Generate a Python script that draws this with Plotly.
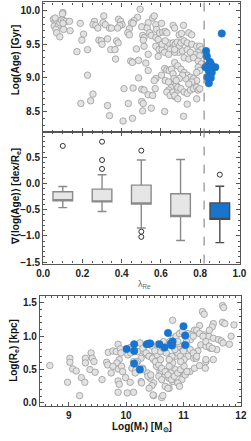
import plotly.graph_objects as go

# ---------------- top panel: lambda_Re vs log(Age) ----------------
top_gray_lam = [
    0.101, 0.098, 0.052, 0.061, 0.069, 0.056, 0.077, 0.085, 0.093, 0.104, 0.117, 0.134, 0.101, 0.065, 0.069, 0.085, 0.104, 0.137, 0.061,
    0.189, 0.206, 0.197, 0.172, 0.226, 0.226, 0.254, 0.242, 0.192, 0.328, 0.338, 0.261, 0.254, 0.268, 0.279, 0.309, 0.305, 0.317, 0.338, 0.284, 0.296, 0.300, 0.328, 0.344,
    0.494, 0.481, 0.462, 0.450, 0.458, 0.384, 0.395, 0.402, 0.390, 0.379, 0.348, 0.439, 0.431, 0.439, 0.502, 0.507, 0.514, 0.510,
    0.535, 0.530, 0.543, 0.551, 0.558, 0.566, 0.574, 0.578, 0.574, 0.586, 0.593, 0.609, 0.622, 0.603, 0.630, 0.662, 0.670,
    0.574, 0.590, 0.606, 0.619, 0.630, 0.639, 0.647, 0.662, 0.673, 0.683, 0.694, 0.690, 0.670, 0.639, 0.606, 0.622,
    0.366, 0.374, 0.382, 0.475, 0.514, 0.535, 0.586, 0.369, 0.446, 0.455, 0.486, 0.523,
    0.535, 0.574, 0.566, 0.603, 0.619, 0.630, 0.642, 0.654, 0.662, 0.667, 0.670, 0.654, 0.639, 0.630, 0.647, 0.662, 0.678, 0.686, 0.673, 0.622, 0.639,
    0.486, 0.412, 0.458, 0.502, 0.514, 0.535, 0.571, 0.558, 0.434, 0.502, 0.510, 0.551, 0.619, 0.407, 0.455, 0.507,
    0.715, 0.693, 0.705, 0.742, 0.757, 0.702, 0.718, 0.734, 0.757, 0.782, 0.798, 0.806, 0.790, 0.774, 0.798,
    0.670, 0.710, 0.734, 0.750, 0.718, 0.742, 0.766, 0.790, 0.806, 0.790, 0.798, 0.782,
    0.670, 0.686, 0.702, 0.718, 0.734, 0.750, 0.766, 0.782, 0.757, 0.742, 0.726, 0.710, 0.693, 0.678,
    0.686, 0.702, 0.718, 0.734, 0.750, 0.766, 0.782, 0.790, 0.734, 0.782, 0.798, 0.715, 0.670, 0.686,
]
top_gray_age = [
    9.97, 9.95, 9.87, 9.84, 9.81, 9.77, 9.78, 9.82, 9.86, 9.85, 9.84, 9.84, 9.81, 9.72, 9.67, 9.61, 9.72, 9.70, 9.89,
    9.81, 9.65, 9.56, 9.39, 9.42, 9.04, 8.76, 8.66, 8.62, 8.59, 8.44, 9.84, 9.79, 9.78, 9.74, 9.92, 9.82, 9.79, 9.74, 9.56, 9.55, 9.50, 9.58, 9.42,
    10.02, 9.90, 9.85, 9.82, 9.81, 9.87, 9.84, 9.79, 9.78, 9.74, 9.74, 9.73, 9.67, 9.64, 9.76, 9.63, 9.60, 9.56,
    9.82, 9.74, 9.67, 9.63, 9.89, 9.92, 9.79, 9.72, 9.60, 9.57, 9.67, 9.68, 9.69, 9.81, 9.67, 9.78, 9.74,
    9.47, 9.42, 9.42, 9.38, 9.47, 9.52, 9.42, 9.52, 9.50, 9.53, 9.47, 9.38, 9.38, 9.35, 9.50, 9.55,
    9.42, 9.55, 9.52, 9.43, 9.47, 9.35, 9.32, 9.28, 9.25, 9.23, 9.26, 9.22,
    9.11, 8.99, 8.96, 9.04, 9.14, 9.12, 9.11, 9.13, 9.06, 8.99, 8.91, 8.86, 8.82, 8.79, 8.74, 8.79, 8.89, 8.82, 8.72, 8.96, 8.94,
    9.00, 8.84, 8.85, 8.83, 8.82, 8.75, 8.84, 8.74, 8.62, 8.65, 8.62, 8.55, 8.50, 8.36, 8.40, 8.51,
    9.78, 9.64, 9.66, 9.67, 9.64, 9.52, 9.55, 9.52, 9.50, 9.47, 9.47, 9.42, 9.38, 9.35, 9.33,
    9.42, 9.40, 9.42, 9.38, 9.30, 9.28, 9.30, 9.25, 9.21, 9.16, 9.11, 9.08,
    9.23, 9.18, 9.13, 9.08, 9.04, 9.01, 8.99, 8.96, 8.94, 8.91, 8.99, 9.04, 8.99, 8.96,
    8.86, 8.84, 8.79, 8.77, 8.82, 8.84, 8.86, 8.82, 8.61, 8.69, 8.84, 8.43, 8.74, 8.69,
]
top_blue_lam = [0.830, 0.834, 0.849, 0.854, 0.827, 0.843, 0.859, 0.836, 0.854, 0.844, 0.877, 0.910, 0.837, 0.849]
top_blue_age = [9.40, 9.32, 9.24, 9.21, 9.16, 9.11, 9.08, 9.01, 9.00, 8.92, 9.16, 9.66, 9.18, 9.16]
lambda_cut = 0.82

# ---------------- middle panel: box statistics ----------------
box_pos = [0.1, 0.3, 0.5, 0.7, 0.9]
box_q1 = [-0.33, -0.35, -0.39, -0.63, -0.685]
box_q3 = [-0.157, -0.107, -0.03, -0.195, -0.37]
box_lo = [-0.46, -0.535, -0.85, -1.09, -1.13]
box_hi = [-0.057, 0.17, 0.45, 0.46, -0.05]
out_pos = [0.1, 0.3, 0.3, 0.3, 0.5, 0.5, 0.5, 0.9]
out_val = [0.72, 0.80, 0.45, 0.28, 0.63, -0.92, -1.02, 0.17]

# ---------------- bottom panel: log(M*) vs log(Re) ----------------
bot_gray_m = [
    8.67, 8.98, 9.02, 9.02, 9.07, 9.13, 9.19, 9.22, 9.28, 9.29, 9.29, 9.39, 9.41, 9.44, 9.37, 9.46, 9.58, 9.66, 9.68, 9.69, 9.74, 9.77,
    9.83, 9.86, 9.90, 9.91, 9.88, 9.86, 9.86, 9.88, 9.86, 9.84, 9.77, 9.92, 9.94, 9.99, 10.02, 10.03, 10.07, 10.08, 10.13, 10.10, 10.07, 10.17,
    11.68, 11.70, 11.33, 11.36, 11.52, 11.50, 11.68, 11.72, 11.88, 10.81, 11.28, 11.19, 11.08, 11.14, 11.36, 11.44, 11.52, 11.61, 11.66, 11.69,
    11.83, 11.80, 11.30, 11.39, 11.47, 11.58, 11.25, 11.17, 11.08, 11.39, 11.52, 10.92, 10.92, 10.97, 10.86, 10.81, 10.75, 10.70, 10.64, 10.59,
    10.53, 10.48, 10.42, 10.37, 10.31, 10.26, 10.20, 10.20, 10.29, 10.37, 10.42, 10.48, 10.62, 10.75, 10.81, 10.91, 10.97, 11.03, 11.11, 11.19,
    11.28, 10.92, 10.86, 10.78, 10.45, 10.26, 10.40, 10.48, 10.62, 10.64, 10.75, 11.18, 11.22,
    10.29, 10.35, 10.40, 10.46, 10.51, 10.57, 10.62, 10.68, 10.54, 10.60, 10.65, 10.71, 10.76, 10.82, 10.87, 10.93, 10.98, 10.57, 10.62, 10.73,
    10.79, 10.84, 10.90, 10.95, 10.90, 10.95, 11.01, 11.06, 11.12, 11.17, 11.23, 11.12, 11.17, 11.23, 11.28, 11.34, 11.39, 11.45, 11.50, 11.45,
    11.39, 11.38, 11.01, 11.06, 10.90, 10.93, 10.24, 10.18, 10.29, 10.38, 10.43, 10.16, 10.13, 10.27, 10.47, 10.68, 10.73,
    10.45, 10.55, 10.65, 10.50, 10.70, 10.80, 10.85, 10.75, 10.60, 10.95, 11.00, 11.05, 10.90,
]
bot_gray_r = [
    0.56, 0.31, 0.67, 0.61, 0.51, 0.48, 0.11, 0.38, 0.31, 0.67, 0.60, 0.75, 0.67, 0.62, 0.50, 0.46, 0.35, 0.61, 0.57, 0.76, 0.45, 0.78,
    0.77, 0.88, 0.81, 0.75, 0.65, 0.51, 0.33, 0.28, 0.16, 0.60, 0.55, 0.55, 0.47, 0.38, 0.15, 0.72, 0.83, 0.75, 0.62, 0.52, 0.31, 0.50,
    1.46, 1.43, 1.37, 1.33, 1.19, 1.14, 1.21, 1.19, 1.17, 1.24, 1.16, 1.09, 1.04, 1.02, 1.02, 1.00, 0.97, 0.95, 0.93, 0.90,
    1.00, 0.88, 0.87, 0.85, 0.82, 0.80, 0.78, 0.75, 0.70, 0.62, 0.65, 0.87, 0.80, 0.77, 0.70, 0.60, 0.55, 0.47, 0.40, 0.47,
    0.55, 0.65, 0.70, 0.72, 0.77, 0.67, 0.77, 0.62, 0.52, 0.45, 0.37, 0.30, 0.47, 0.37, 0.32, 0.30, 0.35, 0.42, 0.47, 0.52,
    0.56, 0.45, 0.50, 0.45, 0.26, 0.32, 0.22, 0.11, 0.08, 0.11, 0.22, 0.67, 0.67,
    0.82, 0.75, 0.70, 0.67, 0.62, 0.57, 0.52, 0.47, 0.72, 0.77, 0.82, 0.87, 0.92, 0.97, 1.00, 1.04, 1.07, 0.40, 0.35, 0.42,
    0.35, 0.40, 0.45, 0.50, 0.75, 0.70, 0.65, 0.85, 0.80, 0.75, 0.70, 0.95, 1.00, 1.09, 1.04, 1.00, 0.92, 0.85, 0.82, 1.09,
    0.65, 0.52, 0.55, 0.47, 0.30, 0.25, 0.90, 0.60, 0.50, 0.40, 0.42, 0.45, 0.16, 0.30, 0.12, 0.25, 0.22,
    0.85, 0.88, 0.92, 0.78, 0.75, 0.70, 0.80, 0.65, 0.65, 0.62, 0.78, 0.92, 0.92,
]
bot_blue_m = [10.01, 10.14, 10.14, 10.14, 10.24, 10.36, 10.40, 10.42, 10.58, 10.67, 10.73, 10.78, 10.81, 10.80, 11.00, 11.03, 11.03]
bot_blue_r = [0.81, 0.88, 0.78, 0.59, 0.50, 0.88, 0.89, 0.89, 0.88, 0.83, 1.05, 0.89, 0.92, 0.86, 1.15, 1.01, 0.87]

# ---------------- styling ----------------
W, H = 251, 441
GRAY_FILL = "#e2e2e2"
GRAY_EDGE = "#9a9a9a"
BLUE = "#1874cd"
AX = "#555555"
FONT = "Liberation Sans"

fig = go.Figure()

fig.add_trace(go.Scatter(x=top_gray_lam, y=top_gray_age, mode="markers", xaxis="x", yaxis="y",
                         marker=dict(size=6.5, color=GRAY_FILL, line=dict(color=GRAY_EDGE, width=0.8)),
                         showlegend=False, hoverinfo="skip"))
fig.add_trace(go.Scatter(x=top_blue_lam, y=top_blue_age, mode="markers", xaxis="x", yaxis="y",
                         marker=dict(size=7.5, color=BLUE, line=dict(color=BLUE, width=0.5)),
                         showlegend=False, hoverinfo="skip"))

for i, p in enumerate(box_pos):
    last = i == len(box_pos) - 1
    fig.add_trace(go.Box(x=[p], q1=[box_q1[i]], median=[box_q1[i]], q3=[box_q3[i]],
                         lowerfence=[box_lo[i]], upperfence=[box_hi[i]],
                         width=0.1, whiskerwidth=0.45, boxpoints=False,
                         fillcolor=BLUE if last else "#e6e6e6",
                         line=dict(color="#4a4a4a" if last else "#8a8a8a", width=1.4),
                         xaxis="x2", yaxis="y2", showlegend=False, hoverinfo="skip"))
fig.add_trace(go.Scatter(x=out_pos, y=out_val, mode="markers", xaxis="x2", yaxis="y2",
                         marker=dict(size=5, color="rgba(0,0,0,0)", line=dict(color="#333333", width=1)),
                         showlegend=False, hoverinfo="skip"))

fig.add_trace(go.Scatter(x=bot_gray_m, y=bot_gray_r, mode="markers", xaxis="x3", yaxis="y3",
                         marker=dict(size=6.5, color=GRAY_FILL, line=dict(color=GRAY_EDGE, width=0.8)),
                         showlegend=False, hoverinfo="skip"))
fig.add_trace(go.Scatter(x=bot_blue_m, y=bot_blue_r, mode="markers", xaxis="x3", yaxis="y3",
                         marker=dict(size=7.5, color=BLUE, line=dict(color=BLUE, width=0.5)),
                         showlegend=False, hoverinfo="skip"))


def px_x(p):
    return p / W


def px_y(p):
    return 1 - p / H


tickfont = dict(family=FONT, size=10, color="#222222", weight="bold")


def axis(domain, rng, dtick, minor, anchor, labels=True, fmt=".1f"):
    return dict(domain=domain, range=rng, dtick=dtick, tick0=0, anchor=anchor,
                showline=True, linecolor=AX, linewidth=1.3, mirror="allticks",
                ticks="inside", ticklen=4, tickwidth=1, tickcolor=AX,
                minor=dict(dtick=minor, ticks="inside", ticklen=2, tickwidth=0.8, tickcolor=AX),
                showgrid=False, zeroline=False, showticklabels=labels,
                ticklabeloverflow="allow",
                tickfont=tickfont, tickformat=fmt, fixedrange=True)


xd_top = [px_x(38.3), px_x(247)]
xd_bot = [px_x(35), px_x(248)]
yd_top = [px_y(133), px_y(2.5)]
yd_mid = [px_y(266), px_y(133)]
yd_bot = [px_y(410), px_y(298.3)]

fig.update_layout(
    width=W, height=H, margin=dict(l=0, r=0, t=0, b=0),
    paper_bgcolor="white", plot_bgcolor="white",
    xaxis=axis(xd_top, [0, 1.004], 0.2, 0.05, "y", labels=False),
    yaxis=axis(yd_top, [8.2, 10.12], 0.5, 0.1, "x"),
    xaxis2=axis(xd_top, [0, 1.004], 0.2, 0.05, "y2"),
    yaxis2=axis(yd_mid, [-1.53, 0.99], 0.5, 0.1, "x2"),
    xaxis3=axis(xd_bot, [8.5, 12.005], 1, 0.1, "y3", fmt="d"),
    yaxis3=axis(yd_bot, [-0.05, 1.61], 0.5, 0.1, "x3"),
)

fig.add_shape(type="line", xref="x", yref="paper", x0=lambda_cut, x1=lambda_cut,
              y0=yd_mid[0], y1=yd_top[1], line=dict(color="#777777", width=1, dash="dash"))

title_font = dict(family=FONT, size=10, color="#111111", weight="bold")


def label(text, x, y, angle=0, font=title_font):
    fig.add_annotation(text=text, x=px_x(x), y=px_y(y), xref="paper", yref="paper",
                       xanchor="center", yanchor="middle", textangle=angle,
                       showarrow=False, font=font)


label("Log(Age) [Gyr]", 9.3, 60, -90)
label("∇⟨log(Age)⟩ [dex/R<sub>e</sub>]", 9.3, 198, -90)
label("Log(R<sub>e</sub>) [kpc]", 7.5, 354, -90)
label("λ<sub>Re</sub>", 146, 287, 0, dict(family=FONT, size=9, color="#666666"))
label("Log(M<sub>*</sub>) [M<sub>⊙</sub>]", 143.5, 431)

fig.write_html("out.html")
